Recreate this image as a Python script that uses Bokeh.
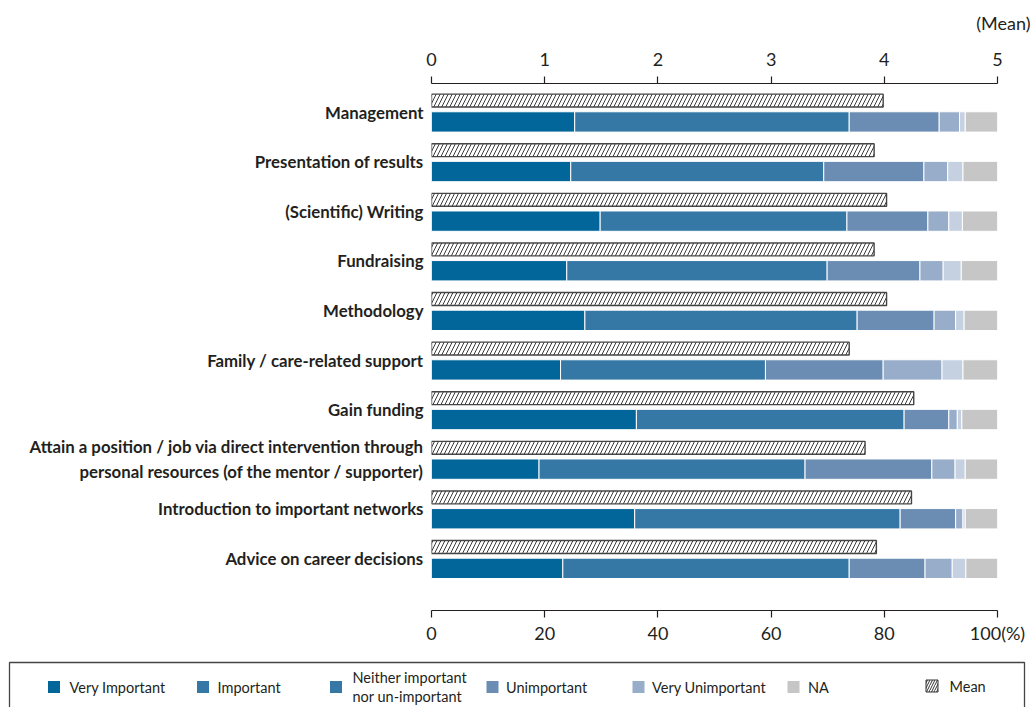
from bokeh.plotting import figure
from bokeh.models import Range1d, LinearAxis, FixedTicker, ColumnDataSource
from bokeh.layouts import column
from bokeh.embed import file_html
from bokeh.resources import INLINE
from bokeh.core.properties import value

# ---------------- data ----------------
categories = [
    "Management",
    "Presentation of results",
    "(Scientific) Writing",
    "Fundraising",
    "Methodology",
    "Family / care-related support",
    "Gain funding",
    "Attain a position / job via direct intervention through\npersonal resources (of the mentor / supporter)",
    "Introduction to important networks",
    "Advice on career decisions",
]
very_important = [25.3, 24.6, 29.8, 23.9, 27.1, 22.8, 36.2, 19.0, 35.9, 23.2]
important      = [48.5, 44.7, 43.6, 46.0, 48.1, 36.2, 47.3, 47.0, 46.9, 50.6]
neither        = [15.9, 17.7, 14.3, 16.4, 13.6, 20.8, 7.9, 22.4, 9.8, 13.4]
unimportant    = [3.6, 4.2, 3.7, 4.1, 3.8, 10.4, 1.5, 4.1, 1.3, 4.8]
very_unimp     = [1.0, 2.7, 2.4, 3.2, 1.5, 3.7, 0.8, 1.8, 0.4, 2.4]
na             = [5.7, 6.1, 6.2, 6.4, 5.9, 6.1, 6.3, 5.7, 5.7, 5.6]
means          = [3.99, 3.91, 4.02, 3.91, 4.02, 3.69, 4.26, 3.83, 4.24, 3.93]

pct_ticks = [0, 20, 40, 60, 80, 100]
mean_ticks = [0, 1, 2, 3, 4, 5]
mean_unit_label = "(Mean)"

segment_names = ["very_important", "important", "neither", "unimportant", "very_unimp", "na"]
bar_colors = ["#03669a", "#3578a5", "#6b8db3", "#97adc9", "#c5d1e1", "#c6c6c6"]

legend_labels = ["Very Important", "Important", "Neither important\nnor un-important",
                 "Unimportant", "Very Unimportant", "NA", "Mean"]
legend_colors = ["#03669a", "#3578a5", "#3578a5", "#6b8db3", "#97adc9", "#c6c6c6", "white"]

FONT = "Lato"
TXT = "#231f20"
W = 1032

# ---------------- header figure: "(Mean)" ----------------
hd = figure(width=W, height=40, x_range=Range1d(0, W), y_range=Range1d(40, 0),
            output_backend="svg", toolbar_location=None, min_border=0,
            x_axis_location=None, y_axis_location=None, frame_align=False)
hd.outline_line_color = None
hd.xgrid.visible = False
hd.ygrid.visible = False
hd.text(x=[1030], y=[22], text=[mean_unit_label], text_font=value(FONT), text_font_size="18px",
        text_color=TXT, text_align="right", text_baseline="middle")

# ---------------- main figure ----------------
n = len(categories)
src = ColumnDataSource(dict(
    y_val=[i + 0.2 for i in range(n)],
    y_mean=[i - 0.23 for i in range(n)],
    very_important=very_important, important=important, neither=neither,
    unimportant=unimportant, very_unimp=very_unimp, na=na, mean=means,
))

p = figure(width=W, height=620, x_range=Range1d(0, 100), y_range=Range1d(10.05, -0.575),
           output_backend="svg", toolbar_location=None, frame_align=False,
           min_border_left=431, min_border_right=35, min_border_top=43, min_border_bottom=50)
p.outline_line_color = None
p.xgrid.visible = False
p.ygrid.visible = False
p.extra_x_ranges = {"mean": Range1d(0, 5)}

p.hbar_stack(segment_names, y="y_val", height=0.41, color=bar_colors, source=src,
             line_color="white", line_width=1)
p.hbar(y="y_mean", left=0, right="mean", height=0.26, x_range_name="mean", source=src,
       fill_color="white", line_color="#444444", line_width=1.4,
       hatch_pattern="/", hatch_color="#3a3a3a", hatch_scale=8, hatch_weight=1)

xa = p.xaxis[0]
xa.ticker = FixedTicker(ticks=pct_ticks)
xa.major_label_overrides = {100: "100(%)"}
top = LinearAxis(x_range_name="mean", ticker=FixedTicker(ticks=mean_ticks))
p.add_layout(top, "above")
for ax in (xa, top):
    ax.minor_tick_line_color = None
    ax.major_tick_in = 0
    ax.major_tick_out = 7
    ax.axis_line_color = TXT
    ax.major_tick_line_color = TXT
    ax.axis_line_width = 1.2
    ax.major_tick_line_width = 1.2
    ax.major_label_text_font = FONT
    ax.major_label_text_font_size = "18px"
    ax.major_label_text_color = TXT
xa.major_label_standoff = 4
top.major_label_standoff = 11

ya = p.yaxis[0]
ya.ticker = FixedTicker(ticks=list(range(n)))
ya.major_label_overrides = {i: c for i, c in enumerate(categories)}
ya.axis_line_color = None
ya.major_tick_line_color = None
ya.minor_tick_line_color = None
ya.major_tick_in = 0
ya.major_tick_out = 0
ya.major_label_standoff = 8
ya.major_label_text_font = FONT
ya.major_label_text_font_style = "bold"
ya.major_label_text_font_size = "16.8px"
ya.major_label_text_color = TXT

# ---------------- legend figure ----------------
lg = figure(width=W, height=47, x_range=Range1d(0, W), y_range=Range1d(707, 660),
            output_backend="svg", toolbar_location=None, min_border=0,
            x_axis_location=None, y_axis_location=None, frame_align=False)
lg.outline_line_color = None
lg.xgrid.visible = False
lg.ygrid.visible = False

sq_left = [47.5, 196.5, 329.5, 486, 632, 787, 925.5]
txt_gap = [21.5, 20.5, 22.5, 19.5, 19.5, 20.5, 23.5]
cy = 686.5
lsrc = ColumnDataSource(dict(
    x=[v + 6 for v in sq_left[:-1]], y=[cy] * 6, c=legend_colors[:-1],
    tx=[v + g for v, g in zip(sq_left[:-1], txt_gap[:-1])], t=legend_labels[:-1],
))
lg.rect(x="x", y="y", width=12, height=12, fill_color="c", line_color=None, source=lsrc)
lg.text(x="tx", y="y", text="t", source=lsrc, text_font=value(FONT), text_font_size="14.5px",
        text_color=TXT, text_baseline="middle", text_align="left", text_line_height=1.1)
lg.rect(x=[sq_left[-1] + 6], y=[cy - 1], width=12, height=12, fill_color="white",
        line_color="#333333", line_width=1, hatch_pattern="/", hatch_color="#333333",
        hatch_scale=5, hatch_weight=1)
lg.text(x=[sq_left[-1] + txt_gap[-1]], y=[cy - 1], text=[legend_labels[-1]], text_font=value(FONT),
        text_font_size="14.5px", text_color=TXT, text_baseline="middle", text_align="left")
lg.multi_line(xs=[[9, 9, 1024, 1024]], ys=[[708, 662, 662, 708]], line_color="#444444",
              line_width=1.3)

layout = column(hd, p, lg, spacing=0)
open("out.html", "w").write(file_html(layout, INLINE))
